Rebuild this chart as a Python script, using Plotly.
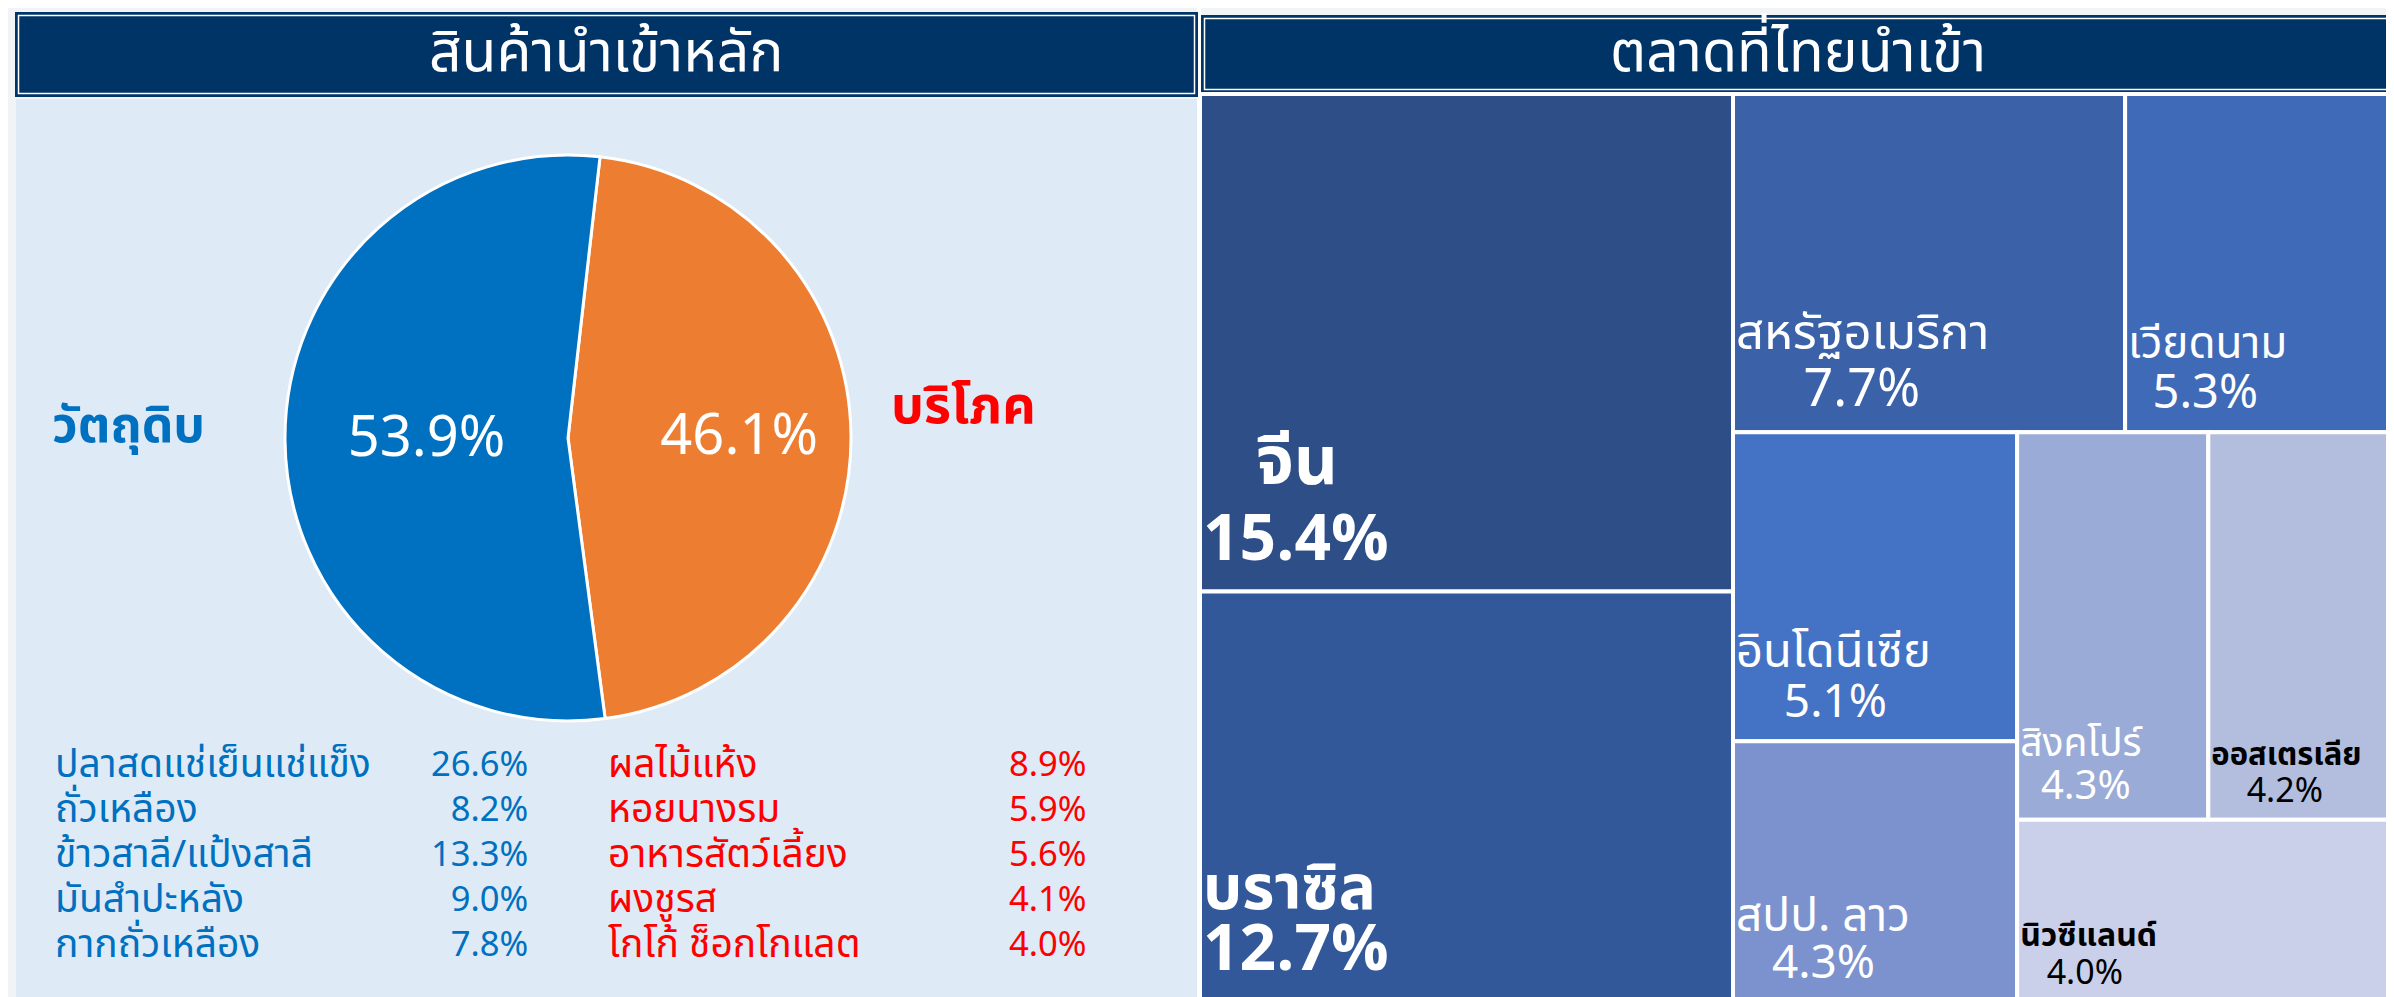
import plotly.graph_objects as go

W, H = 2394, 997
FONT = "'Noto Sans Thai', 'Noto Sans', sans-serif"
NB = "\u00a0"

# ---------------- data ----------------
title_left = "สินค้านำเข้าหลัก"
title_right = "ตลาดที่ไทยนำเข้า"

pie_labels = ["บริโภค", "วัตถุดิบ"]
pie_values = [46.1, 53.9]

raw_items = ["ปลาสดแช่เย็นแช่แข็ง", "ถั่วเหลือง", "ข้าวสาลี/แป้งสาลี", "มันสำปะหลัง", "กากถั่วเหลือง"]
raw_values = [26.6, 8.2, 13.3, 9.0, 7.8]
cons_items = ["ผลไม้แห้ง", "หอยนางรม", "อาหารสัตว์เลี้ยง", "ผงชูรส", "โกโก้ ช็อกโกแลต"]
cons_values = [8.9, 5.9, 5.6, 4.1, 4.0]

markets = ["จีน", "บราซิล", "สหรัฐอเมริกา", "เวียดนาม", "อินโดนีเซีย",
           "สปป. ลาว", "สิงคโปร์", "ออสเตรเลีย", "นิวซีแลนด์"]
market_values = [15.4, 12.7, 7.7, 5.3, 5.1, 4.3, 4.3, 4.2, 4.0]

# ---------------- styles ----------------
pie_colors = ["#ED7D31", "#0070C0"]
pie_text_indent = [4, 0]

market_colors = ["#2E4E88", "#335899", "#3B62A8", "#3F6AB8", "#4472C4",
                 "#7B92CE", "#9AABD7", "#B3BEDE", "#CBD0EA"]
market_text_colors = ["white"] * 7 + ["black", "black"]
label_size = [68, 62, 49, 44, 47, 46, 39, 31, 32]
pct_size = [64, 64, 52, 47, 46, 46, 40, 34, 34]
line_base = [58, 47, 44, 39, 39, 36, 33, 28, 29]
label_bold = [True, True, False, False, False, False, False, True, True]
pct_bold = [True, True, False, False, False, False, False, False, False]
label_indent = [3, 0, 0, 0, 0, 0, 0, 0, 0]
pct_indent = [0, 0, 5, 2, 4, 3, 2, 4, 3]


def wrap(s, size, bold):
    s = f'<span style="font-size:{size}px">{s}</span>'
    return f"<b>{s}</b>" if bold else s


tm_templates = []
for i in range(len(markets)):
    lab = wrap(NB * label_indent[i] + "%{label}", label_size[i], label_bold[i])
    pct = wrap(NB * pct_indent[i] + "%{value:.1f}%", pct_size[i], pct_bold[i])
    tm_templates.append(lab + "<br>" + pct)


def px_x(x):
    return x / W


def px_y(y):
    return 1 - y / H


fig = go.Figure()

# Pie (left panel)
fig.add_trace(go.Pie(
    labels=pie_labels,
    values=pie_values,
    sort=False,
    direction="clockwise",
    rotation=6.5,
    marker=dict(colors=pie_colors, line=dict(color="white", width=3)),
    texttemplate=[NB * n + "%{value:.1f}%" for n in pie_text_indent],
    textposition="inside",
    insidetextorientation="horizontal",
    textfont=dict(family=FONT, size=56, color="white"),
    domain=dict(x=[px_x(277), px_x(843)], y=[px_y(713), px_y(147)]),
    showlegend=False,
    hoverinfo="label+value",
))

# Treemap (right panel)
fig.add_trace(go.Treemap(
    labels=markets,
    parents=[""] * len(markets),
    values=market_values,
    sort=True,
    marker=dict(colors=market_colors, line=dict(color="white", width=4),
                pad=dict(t=0, l=0, r=0, b=0)),
    tiling=dict(packing="squarify", squarifyratio=1.2, pad=0),
    texttemplate=tm_templates,
    textposition="bottom left",
    textfont=dict(family=FONT, size=line_base, color=market_text_colors),
    pathbar=dict(visible=False),
    domain=dict(x=[px_x(1192), px_x(2387)], y=[px_y(994), px_y(86)]),
    hoverinfo="label+value",
))

shapes = []
shapes.append(dict(type="rect", xref="paper", yref="paper",
                   x0=px_x(8), x1=px_x(1189), y0=0, y1=px_y(91),
                   fillcolor="#DEEAF6", line=dict(width=0), layer="below"))
shapes.append(dict(type="rect", xref="paper", yref="paper",
                   x0=px_x(1189), x1=px_x(1193), y0=0, y1=1,
                   fillcolor="white", line=dict(width=0), layer="below"))
for (x0, x1, y0, y1) in [(7, 1190, 4, 89), (1193, 2388, 7, 85)]:
    shapes.append(dict(type="rect", xref="paper", yref="paper",
                       x0=px_x(x0), x1=px_x(x1), y0=px_y(y1), y1=px_y(y0),
                       fillcolor="#003366", line=dict(width=0), layer="below"))
    shapes.append(dict(type="rect", xref="paper", yref="paper",
                       x0=px_x(x0 + 3.5), x1=px_x(x1 - 3.5), y0=px_y(y1 - 3.5), y1=px_y(y0 + 3.5),
                       fillcolor="rgba(0,0,0,0)", line=dict(color="white", width=1.5), layer="below"))

annotations = []
annotations.append(dict(text=title_left, x=px_x(598), y=px_y(46), xref="paper", yref="paper",
                        showarrow=False, xanchor="center", yanchor="middle",
                        font=dict(family=FONT, size=57, color="white")))
annotations.append(dict(text=title_right, x=px_x(1790), y=px_y(46), xref="paper", yref="paper",
                        showarrow=False, xanchor="center", yanchor="middle",
                        font=dict(family=FONT, size=57, color="white")))

annotations.append(dict(text="<b>" + pie_labels[1] + "</b>", x=px_x(120), y=px_y(419),
                        xref="paper", yref="paper", showarrow=False,
                        xanchor="center", yanchor="middle",
                        font=dict(family=FONT, size=50, color="#0070C0")))
annotations.append(dict(text="<b>" + pie_labels[0] + "</b>", x=px_x(955), y=px_y(399),
                        xref="paper", yref="paper", showarrow=False,
                        xanchor="center", yanchor="middle",
                        font=dict(family=FONT, size=52, color="#FF0000")))

# item lists: one multi-line annotation per column
LIST_BASE = 34.6
mid_y = px_y(847)
cols = [
    ("<br>".join(f'<span style="font-size:39px">{s}</span>' for s in raw_items), 45, "left", "#0070C0"),
    ("<br>".join(f"{v:.1f}%" for v in raw_values), 522, "right", "#0070C0"),
    ("<br>".join(f'<span style="font-size:39px">{s}</span>' for s in cons_items), 598, "left", "#FF0000"),
    ("<br>".join(f"{v:.1f}%" for v in cons_values), 1081, "right", "#FF0000"),
]
for text, x, anchor, color in cols:
    annotations.append(dict(text=text, x=px_x(x), y=mid_y, xref="paper", yref="paper",
                            showarrow=False, xanchor=anchor, yanchor="middle", align=anchor,
                            font=dict(family=FONT, size=LIST_BASE, color=color)))

fig.update_layout(
    width=W, height=H,
    margin=dict(l=0, r=0, t=0, b=0),
    paper_bgcolor="#F1F3F6",
    plot_bgcolor="#F1F3F6",
    shapes=shapes,
    annotations=annotations,
    font=dict(family=FONT),
)

fig.write_html("out.html")
